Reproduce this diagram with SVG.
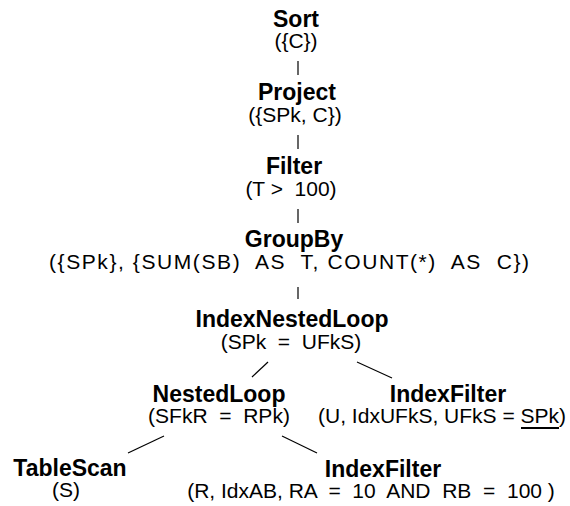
<svg xmlns="http://www.w3.org/2000/svg" width="570" height="506" viewBox="0 0 570 506">
  <style>
    text { font-family: "Liberation Sans", Arial, sans-serif; fill: #000; text-anchor: middle; }
    .op { font-weight: bold; font-size: 23px; }
    .arg { font-size: 21px; white-space: pre; }
    .edge { stroke: #000; stroke-width: 1.2; fill: none; }
  </style>
  <rect width="570" height="506" fill="#fff"/>

  <!-- connectors between plan operators -->
  <g id="connectors">
    <line class="edge" x1="298" y1="61" x2="298" y2="75"/>
    <line class="edge" x1="298" y1="135" x2="298" y2="149"/>
    <line class="edge" x1="298" y1="209" x2="298" y2="223"/>
    <line class="edge" x1="298" y1="287" x2="298" y2="299"/>
    <line class="edge" x1="268" y1="362" x2="252" y2="377"/>
    <line class="edge" x1="357" y1="362" x2="392" y2="378"/>
    <line class="edge" x1="164" y1="436" x2="128" y2="453"/>
    <line class="edge" x1="282" y1="436" x2="317" y2="453"/>
  </g>

  <g id="sort">
    <text class="op" x="296" y="27">Sort</text>
    <text class="arg" x="296" y="48">({C})</text>
  </g>

  <g id="project">
    <text class="op" x="297" y="100">Project</text>
    <text class="arg" x="295" y="122">({SPk, C})</text>
  </g>

  <g id="filter">
    <text class="op" x="294" y="174">Filter</text>
    <text class="arg" x="291" y="196">(T &gt;  100)</text>
  </g>

  <g id="groupby">
    <text class="op" x="294" y="247">GroupBy</text>
    <text class="arg" x="289" y="269" textLength="480" lengthAdjust="spacing">({SPk}, {SUM(SB)  AS  T, COUNT(*)  AS  C})</text>
  </g>

  <g id="indexnestedloop">
    <text class="op" x="292" y="327">IndexNestedLoop</text>
    <text class="arg" x="291" y="349">(SPk  =  UFkS)</text>
  </g>

  <g id="nestedloop">
    <text class="op" x="219" y="402">NestedLoop</text>
    <text class="arg" x="219" y="423">(SFkR  =  RPk)</text>
  </g>

  <g id="indexfilter-u">
    <text class="op" x="448" y="402">IndexFilter</text>
    <text class="arg" x="566" y="423" style="text-anchor:end">(U, IdxUFkS, UFkS = SPk)</text>
    <!-- underline of the bound key SPk -->
    <line x1="521" y1="428" x2="559" y2="428" stroke="#000" stroke-width="1.8"/>
  </g>

  <g id="tablescan">
    <text class="op" x="70" y="476">TableScan</text>
    <text class="arg" x="66" y="497">(S)</text>
  </g>

  <g id="indexfilter-r">
    <text class="op" x="383" y="477">IndexFilter</text>
    <text class="arg" x="371" y="498">(R, IdxAB, RA  =  10  AND  RB  =  100 )</text>
  </g>
</svg>
